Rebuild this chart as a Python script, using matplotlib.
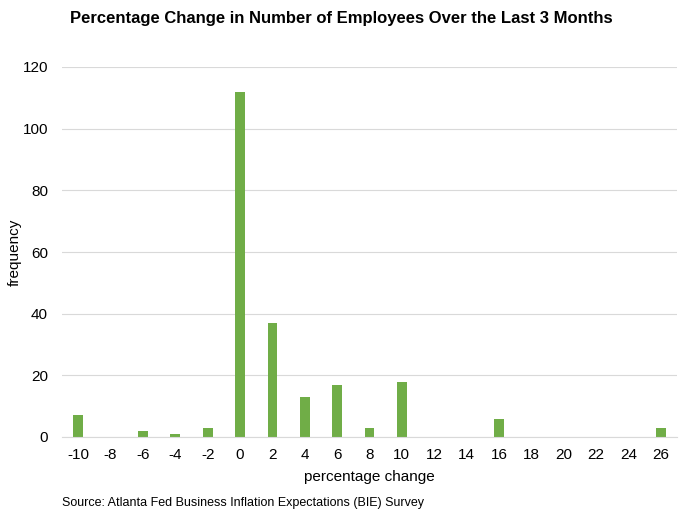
import matplotlib.pyplot as plt
import numpy as np

plt.rcParams['font.family'] = ['Liberation Sans', 'DejaVu Sans']

categorias = [-10, -8, -6, -4, -2, 0, 2, 4, 6, 8, 10, 12, 14, 16, 18, 20, 22, 24, 26]
frecuencias = [7, 0, 2, 1, 3, 112, 37, 13, 17, 3, 18, 0, 0, 6, 0, 0, 0, 0, 3]
y_ticks = [0, 20, 40, 60, 80, 100, 120]

fig = plt.figure(figsize=(6.83, 5.2), dpi=100)
ax = fig.add_axes([62 / 683, 1 - 437 / 520, 615 / 683, 370 / 520])

x = np.arange(len(categorias))
ax.bar(x, frecuencias, width=0.3, color='#70ad47', zorder=3)

ax.set_xlim(-0.5, len(categorias) - 0.5)
ax.set_ylim(0, 120)
ax.set_yticks(y_ticks)
ax.set_xticks(x)
ax.set_xticklabels([str(c) for c in categorias])
ax.tick_params(axis='both', length=0, labelsize=11, colors='black')
ax.tick_params(axis='x', pad=8)
ax.tick_params(axis='y', pad=10)

ax.grid(axis='y', color='#d9d9d9', linewidth=0.8, zorder=0)
for lado in ['top', 'right', 'left']:
    ax.spines[lado].set_visible(False)
ax.spines['bottom'].set_color('#d9d9d9')
ax.spines['bottom'].set_zorder(4)

ax.set_xlabel('percentage change', fontsize=11, labelpad=6)
ax.set_ylabel('frequency', fontsize=11, va='center')
ax.yaxis.set_label_coords(-(62 - 15) / 615, 0.5)

fig.text(0.5, 1 - 18 / 520, 'Percentage Change in Number of Employees Over the Last 3 Months',
         ha='center', va='center', fontsize=12, fontweight='bold')
fig.text(62 / 683, 1 - 503 / 520, 'Source: Atlanta Fed Business Inflation Expectations (BIE) Survey',
         ha='left', va='center', fontsize=9)

fig.savefig('out.png', dpi=100)
